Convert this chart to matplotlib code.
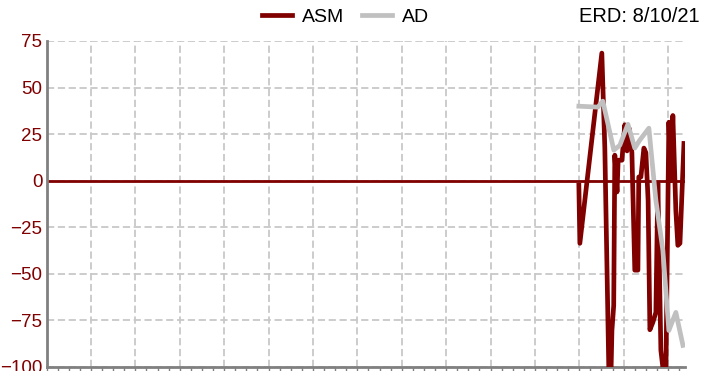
import numpy as np
import matplotlib.pyplot as plt

plt.rcParams['font.family'] = ['Liberation Sans', 'DejaVu Sans']

# x positions in tick units (one tick per unit, grid every 4)
asm_x = [47.96, 48.05, 50.03, 50.3, 50.67, 50.85, 50.94, 51.1, 51.2, 51.4,
         51.5, 51.84, 52.1, 52.3, 52.5, 52.74, 53.0, 53.28, 53.36, 53.55,
         53.82, 54.0, 54.2, 54.36, 54.63, 54.9, 55.08, 55.35, 55.62, 55.8,
         56.07, 56.25, 56.43, 56.7, 56.88, 57.07, 57.43]
asm_y = [-2.4, -33.6, 68.5, 17.5, -105, -105, -80.4, -67, 13.7, -6,
         11, 11, 30, 16, 28, 15, -48, -48, 2, 2,
         17.5, 15, -10.5, -80, -76, -70.7, -1.3, -91, -105, -105,
         31.4, 0, 35, -16, -34.7, -33.6, 20]

ad_x = [47.96, 49.67, 50.12, 51.11, 51.65, 52.38, 53.0, 53.45, 54.27,
        54.9, 55.53, 56.07, 56.7, 57.34]
ad_y = [40, 39.5, 42.7, 16.4, 19, 30.3, 17.5, 21.8, 28.2,
        -10.5, -37.4, -80.4, -70.7, -88.4]

y_ticks = [75, 50, 25, 0, -25, -50, -75, -100]
erd_label = 'ERD: 8/10/21'

red = '#800000'
silver = '#c0c0c0'

fig = plt.figure(figsize=(7.02, 3.71), dpi=100)
ax = fig.add_axes([0.0664, 0.0108, 0.909, 0.8787])

ax.set_xlim(0, 57.5)
ax.set_ylim(-100, 75)

ax.set_yticks(y_ticks)
ax.set_xticks(np.arange(4, 57, 4))
ax.set_xticks(np.arange(0, 58, 1), minor=True)
ax.grid(True, color='#c8c8c8', linestyle=(0, (4, 2)), linewidth=1.3)
ax.set_axisbelow(True)

ax.axhline(0, color=red, linewidth=2, zorder=2)
ax.plot(asm_x, asm_y, color=red, linewidth=3.4, label='ASM', zorder=3)
ax.plot(ad_x, ad_y, color=silver, linewidth=3.4, label='AD', zorder=4)

for s in ['top', 'right']:
    ax.spines[s].set_visible(False)
for s in ['left', 'bottom']:
    ax.spines[s].set_color('#808080')
    ax.spines[s].set_linewidth(2)

ax.tick_params(axis='y', length=0, pad=3, labelsize=13.5, labelcolor=red)
ax.tick_params(axis='x', which='major', length=4, width=1, color='#808080',
               labelbottom=False)
ax.tick_params(axis='x', which='minor', length=4, width=1, color='#808080')

fig.legend(loc='center', bbox_to_anchor=(0.492, 0.955), ncol=2, frameon=False,
           fontsize=14, handlelength=1.55, handletextpad=0.5, columnspacing=0.9)
fig.text(0.997, 0.955, erd_label, ha='right', va='center', fontsize=14.5)

fig.savefig('out.png', dpi=100)
